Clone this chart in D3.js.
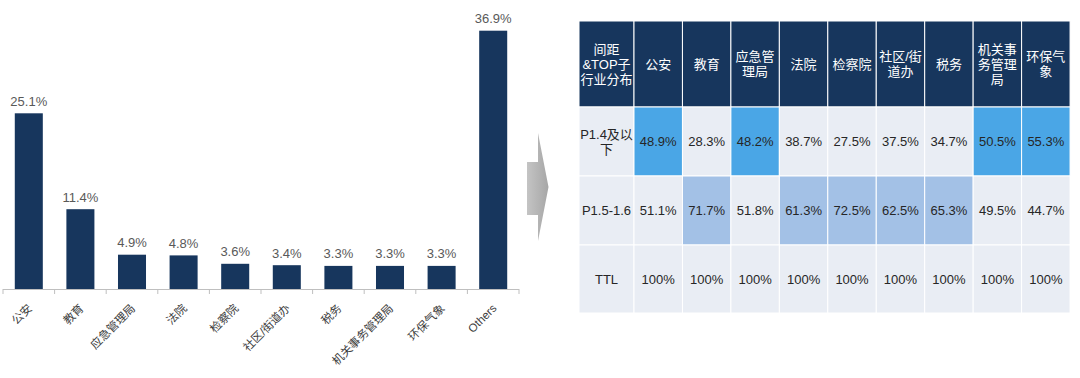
<!DOCTYPE html>
<html>
<head>
<meta charset="utf-8">
<script src="https://cdn.jsdelivr.net/npm/d3@7"></script>
<style>
  body { margin: 0; background: #fff; }
  svg { font-family: "Liberation Sans", Arial, "Noto Sans CJK SC", sans-serif; }
</style>
</head>
<body>
<div id="chart"></div>
<script>
// bar chart data
const categories = ['公安', '教育', '应急管理局', '法院', '检察院', '社区/街道办', '税务', '机关事务管理局', '环保气象', 'Others'];
const shares = [25.1, 11.4, 4.9, 4.8, 3.6, 3.4, 3.3, 3.3, 3.3, 36.9];

// table data
const tableCorner = ['间距', '&TOP子', '行业分布'];
const tableHeaders = [['公安'], ['教育'], ['应急管', '理局'], ['法院'], ['检察院'], ['社区/街', '道办'], ['税务'], ['机关事', '务管理', '局'], ['环保气', '象']];
const rowLabels = [['P1.4及以', '下'], ['P1.5-1.6'], ['TTL']];
const rowLow = ['48.9%', '28.3%', '48.2%', '38.7%', '27.5%', '37.5%', '34.7%', '50.5%', '55.3%'];
const rowMid = ['51.1%', '71.7%', '51.8%', '61.3%', '72.5%', '62.5%', '65.3%', '49.5%', '44.7%'];
const rowTtl = ['100%', '100%', '100%', '100%', '100%', '100%', '100%', '100%', '100%'];
const highlightLow = [1, 0, 1, 0, 0, 0, 0, 1, 1];
const highlightMid = [0, 1, 0, 1, 1, 1, 1, 0, 0];

const width = 1080, height = 378;
const svg = d3.select('#chart').append('svg')
  .attr('width', width)
  .attr('height', height);

// ---- bar chart ----
const baseY = 289;
const x = d3.scaleBand()
  .domain(categories)
  .range([3, 519])
  .paddingInner(0.457)
  .paddingOuter(0.2285);
const y = d3.scaleLinear()
  .domain([0, 40])
  .range([baseY, baseY - 280]);

const bars = svg.append('g');
bars.selectAll('rect')
  .data(categories)
  .enter().append('rect')
  .attr('x', d => x(d))
  .attr('y', (d, i) => y(shares[i]))
  .attr('width', x.bandwidth())
  .attr('height', (d, i) => baseY - y(shares[i]))
  .attr('fill', '#17365d');

bars.selectAll('text.val')
  .data(categories)
  .enter().append('text')
  .attr('class', 'val')
  .attr('x', d => x(d) + x.bandwidth() / 2)
  .attr('y', (d, i) => y(shares[i]) - 7.5)
  .attr('text-anchor', 'middle')
  .attr('font-size', 13)
  .attr('fill', '#595959')
  .text((d, i) => shares[i].toFixed(1) + '%');

// axis line + ticks at band edges
const axis = svg.append('g');
const edges = categories.map(d => x(d) + x.bandwidth() / 2 - x.step() / 2);
edges.push(edges[edges.length - 1] + x.step());
axis.append('line')
  .attr('x1', edges[0]).attr('x2', edges[edges.length - 1])
  .attr('y1', baseY + 0.5).attr('y2', baseY + 0.5)
  .attr('stroke', '#bfbfbf');
axis.selectAll('line.tick')
  .data(edges)
  .enter().append('line')
  .attr('class', 'tick')
  .attr('x1', d => d).attr('x2', d => d)
  .attr('y1', baseY).attr('y2', baseY + 5)
  .attr('stroke', '#bfbfbf');

axis.selectAll('text.cat')
  .data(categories)
  .enter().append('text')
  .attr('class', 'cat')
  .attr('text-anchor', 'end')
  .attr('font-size', 11.5)
  .attr('fill', '#404040')
  .attr('transform', d => `translate(${x(d) + x.bandwidth() / 2 + 4}, ${baseY + 20}) rotate(-45)`)
  .text(d => d);

// ---- arrow ----
const grad = svg.append('defs').append('linearGradient')
  .attr('id', 'arrowGrad').attr('x1', 0).attr('x2', 1).attr('y1', 0).attr('y2', 0);
grad.append('stop').attr('offset', '0%').attr('stop-color', '#c4c4c4');
grad.append('stop').attr('offset', '100%').attr('stop-color', '#a6a6a6');
svg.append('path')
  .attr('d', 'M527,162 L538,162 L538,133 L548.5,187 L538,241 L538,215 L527,215 Z')
  .attr('fill', 'url(#arrowGrad)');

// ---- table ----
const tableLeft = 579, firstColW = 55, colW = 48.45;
const colX = d3.scaleBand()
  .domain(d3.range(tableHeaders.length))
  .range([tableLeft + firstColW, tableLeft + firstColW + colW * tableHeaders.length]);
const rowTops = [21, 107, 176, 245];
const rowH = [86, 69, 69, 68];

const table = svg.append('g');
const cell = (cx, cy, w, h, fill) => table.append('rect')
  .attr('x', cx).attr('y', cy).attr('width', w).attr('height', h)
  .attr('fill', fill).attr('stroke', '#fff').attr('stroke-width', 1);

const lines = (cx, cy, arr, color) => {
  const lh = 15;
  const t = table.append('text')
    .attr('text-anchor', 'middle')
    .attr('font-size', 13)
    .attr('fill', color);
  arr.forEach((s, i) => {
    t.append('tspan')
      .attr('x', cx)
      .attr('y', cy + (i - (arr.length - 1) / 2) * lh + 4.5)
      .text(s);
  });
};

// header row
cell(tableLeft, rowTops[0], firstColW, rowH[0], '#17365d');
lines(tableLeft + firstColW / 2, rowTops[0] + rowH[0] / 2, tableCorner, '#fff');
tableHeaders.forEach((h, i) => {
  cell(colX(i), rowTops[0], colX.bandwidth(), rowH[0], '#17365d');
  lines(colX(i) + colX.bandwidth() / 2, rowTops[0] + rowH[0] / 2, h, '#fff');
});

// body rows
const bodyRows = [rowLow, rowMid, rowTtl];
const highlights = [highlightLow, highlightMid, null];
const hiColor = ['#4aa6e6', '#a3c1e6'];
bodyRows.forEach((row, r) => {
  const top = rowTops[r + 1], h = rowH[r + 1];
  cell(tableLeft, top, firstColW, h, '#e9edf4');
  lines(tableLeft + firstColW / 2, top + h / 2, rowLabels[r], '#262626');
  row.forEach((v, i) => {
    const hl = highlights[r] && highlights[r][i];
    cell(colX(i), top, colX.bandwidth(), h, hl ? hiColor[r] : '#e9edf4');
    lines(colX(i) + colX.bandwidth() / 2, top + h / 2, [v], '#262626');
  });
});
</script>
</body>
</html>
